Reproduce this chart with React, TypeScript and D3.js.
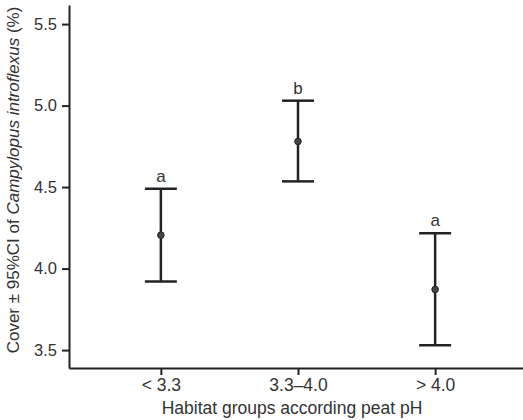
import React, { useEffect, useRef } from 'react';
import * as d3 from 'd3';

// habitat groups and cover estimates (mean with 95% CI)
const groups = ['< 3.3', '3.3–4.0', '> 4.0'];
const means = [4.205, 4.78, 3.872];
const lower = [3.92, 4.535, 3.53];
const upper = [4.49, 5.03, 4.216];
const letters = ['a', 'b', 'a'];
const yTicks = [3.5, 4.0, 4.5, 5.0, 5.5];

const W = 523;
const H = 420;
const FONT = '"Liberation Sans", Arial, sans-serif';
const INK = '#222';

export default function App() {
  const svgRef = useRef<SVGSVGElement>(null);

  useEffect(() => {
    if (!svgRef.current) return;
    const svg = d3.select(svgRef.current);
    svg.selectAll('*').remove();

    const left = 69, top = 5, bottom = 368;

    const x = d3.scalePoint<string>()
      .domain(groups)
      .range([left, 527])
      .padding(0.67);

    const y = d3.scaleLinear()
      .domain([3.39, 5.617])
      .range([bottom, top]);

    // axes
    const yAxis = svg.append('g')
      .attr('transform', `translate(${left},0)`)
      .call(d3.axisLeft(y).tickValues(yTicks).tickFormat(d3.format('.1f')).tickSize(7).tickSizeOuter(0).tickPadding(5));

    const xAxis = svg.append('g')
      .attr('transform', `translate(0,${bottom})`)
      .call(d3.axisBottom(x).tickSize(7).tickSizeOuter(0).tickPadding(4));

    [xAxis, yAxis].forEach(ax => {
      ax.select('.domain').attr('stroke', INK).attr('stroke-width', 2);
      ax.selectAll('.tick line').attr('stroke', INK).attr('stroke-width', 2);
      ax.selectAll('.tick text')
        .attr('fill', '#333')
        .style('font-family', FONT);
    });
    yAxis.selectAll('.tick text').style('font-size', '16.5px');
    xAxis.selectAll('.tick text').style('font-size', '17.5px');

    // axis titles
    svg.append('text')
      .attr('x', 292)
      .attr('y', 414)
      .attr('text-anchor', 'middle')
      .attr('fill', '#333')
      .style('font-family', FONT)
      .style('font-size', '17.5px')
      .text('Habitat groups according peat pH');

    const yt = svg.append('text')
      .attr('transform', `translate(19,180) rotate(-90)`)
      .attr('text-anchor', 'middle')
      .attr('fill', '#333')
      .style('font-family', FONT)
      .style('font-size', '17px');
    yt.append('tspan').text('Cover ± 95%CI of ');
    yt.append('tspan').attr('font-style', 'italic').text('Campylopus introflexus');
    yt.append('tspan').text(' (%)');

    // error bars
    const bars = svg.append('g')
      .selectAll('g')
      .data(groups)
      .join('g');

    const capHalf = 16;

    bars.append('line')
      .attr('x1', d => x(d)!)
      .attr('x2', d => x(d)!)
      .attr('y1', (_, i) => y(lower[i]))
      .attr('y2', (_, i) => y(upper[i]))
      .attr('stroke', INK)
      .attr('stroke-width', 2.5);

    [upper, lower].forEach(arr => {
      bars.append('line')
        .attr('x1', d => x(d)! - capHalf)
        .attr('x2', d => x(d)! + capHalf)
        .attr('y1', (_, i) => y(arr[i]))
        .attr('y2', (_, i) => y(arr[i]))
        .attr('stroke', INK)
        .attr('stroke-width', 2.5);
    });

    bars.append('circle')
      .attr('cx', d => x(d)!)
      .attr('cy', (_, i) => y(means[i]))
      .attr('r', 3.3)
      .attr('fill', '#444')
      .attr('stroke', INK)
      .attr('stroke-width', 1);

    bars.append('text')
      .attr('x', d => x(d)!)
      .attr('y', (_, i) => y(upper[i]) - 7)
      .attr('text-anchor', 'middle')
      .attr('fill', '#333')
      .style('font-family', FONT)
      .style('font-size', '17px')
      .text((_, i) => letters[i]);
  }, []);

  return (
    <svg
      ref={svgRef}
      width={W}
      height={H}
      style={{ position: 'absolute', left: 0, top: 0, background: '#fff' }}
    />
  );
}
